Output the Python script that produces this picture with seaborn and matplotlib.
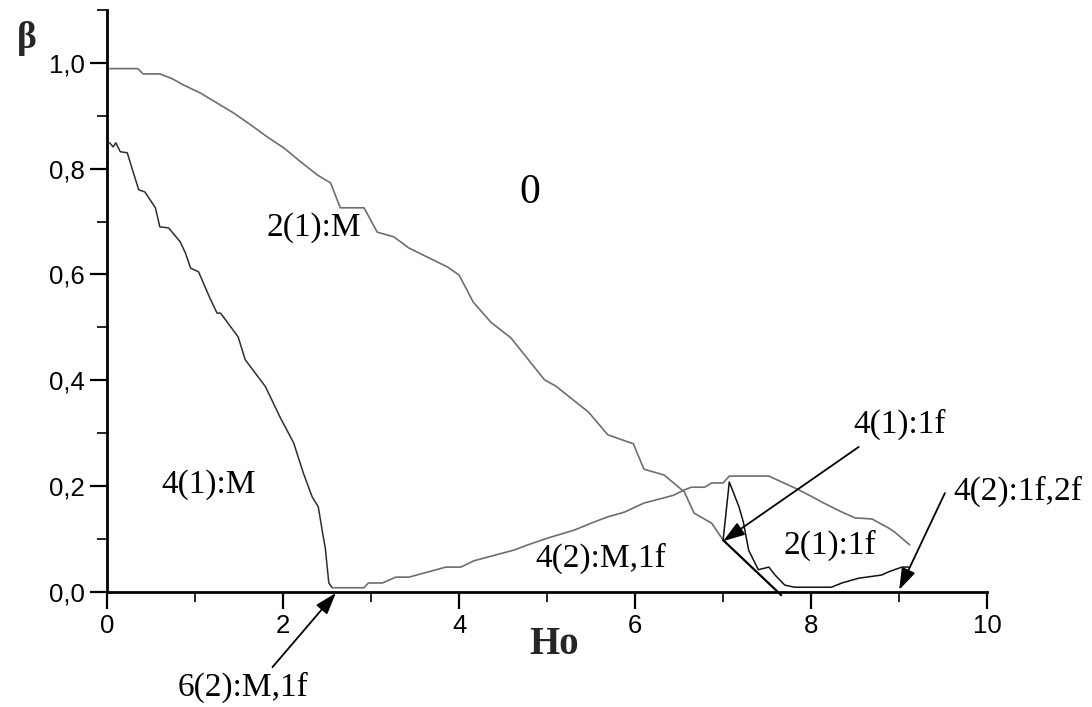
import matplotlib
matplotlib.use("Agg")
import matplotlib.pyplot as plt
import seaborn as sns
import pandas as pd
from matplotlib.ticker import MultipleLocator, FuncFormatter

# ---- data ----
upper_x = [0.03, 0.35, 0.41, 0.60, 0.74, 0.87, 1.06, 1.25, 1.44, 1.63, 1.82, 2.01, 2.20, 2.39,
           2.54, 2.65, 2.92, 3.07, 3.26, 3.43, 3.87, 4.00, 4.16, 4.36, 4.59, 4.97, 5.10, 5.47,
           5.69, 5.98, 6.10, 6.33, 6.56, 6.67, 6.87, 7.00]
upper_y = [0.989, 0.989, 0.979, 0.979, 0.970, 0.958, 0.943, 0.924, 0.905, 0.883, 0.860, 0.839,
           0.813, 0.788, 0.773, 0.726, 0.726, 0.680, 0.671, 0.650, 0.614, 0.599, 0.548, 0.510,
           0.480, 0.401, 0.389, 0.340, 0.297, 0.280, 0.232, 0.221, 0.189, 0.149, 0.130, 0.098]

tail_x = [7.00, 7.66]
tail_y = [0.098, -0.006]

left_x = [0.03, 0.07, 0.10, 0.15, 0.23, 0.30, 0.36, 0.43, 0.55, 0.60, 0.70, 0.83, 0.89, 0.95,
          1.04, 1.17, 1.25, 1.29, 1.49, 1.57, 1.80, 1.97, 2.12, 2.23, 2.33, 2.40, 2.45, 2.48,
          2.52, 2.56]
left_y = [0.849, 0.841, 0.849, 0.832, 0.830, 0.792, 0.760, 0.756, 0.726, 0.690, 0.688, 0.662,
          0.641, 0.612, 0.605, 0.555, 0.527, 0.527, 0.482, 0.439, 0.388, 0.329, 0.282, 0.225,
          0.180, 0.161, 0.111, 0.083, 0.017, 0.008]

lower_x = [2.56, 2.92, 2.97, 3.13, 3.28, 3.43, 3.85, 4.02, 4.17, 4.62, 4.78, 5.01, 5.31, 5.50,
           5.69, 5.88, 6.10, 6.33, 6.44, 6.56, 6.64, 6.79, 6.87, 7.00, 7.07, 7.52, 7.86, 8.01,
           8.12, 8.35, 8.50, 8.69, 8.88, 8.95, 9.12]
lower_y = [0.008, 0.008, 0.017, 0.017, 0.028, 0.028, 0.047, 0.047, 0.059, 0.079, 0.089, 0.102,
           0.117, 0.130, 0.142, 0.151, 0.168, 0.178, 0.183, 0.193, 0.198, 0.198, 0.206, 0.206,
           0.219, 0.219, 0.193, 0.180, 0.170, 0.151, 0.140, 0.138, 0.121, 0.113, 0.089]

spike_x = [7.00, 7.07, 7.18, 7.23, 7.29, 7.40, 7.52, 7.59, 7.70, 7.81, 8.23, 8.35, 8.54, 8.80,
           8.88, 9.03, 9.11]
spike_y = [0.098, 0.208, 0.161, 0.132, 0.079, 0.042, 0.047, 0.032, 0.013, 0.009, 0.009, 0.017,
           0.026, 0.032, 0.038, 0.047, 0.047]

region_labels = ["0", "2(1):M", "4(1):M", "4(2):M,1f", "2(1):1f"]
region_x = [4.80, 2.35, 1.16, 5.61, 8.21]
region_y = [0.754, 0.688, 0.202, 0.064, 0.089]

arrow_labels = ["4(1):1f", "4(2):1f,2f", "6(2):M,1f"]
arrow_text_x = [9.00, 10.35, 1.55]
arrow_text_y = [0.316, 0.190, -0.180]
arrow_from_x = [8.54, 9.52, 1.88]
arrow_from_y = [0.274, 0.187, -0.142]
arrow_to_x = [7.00, 9.00, 2.60]
arrow_to_y = [0.096, 0.004, -0.002]

x_ticks = [0, 2, 4, 6, 8, 10]
y_ticks = [0.0, 0.2, 0.4, 0.6, 0.8, 1.0]

# ---- styling ----
sns.set_style("ticks")
plt.rcParams["font.family"] = ["Liberation Sans", "DejaVu Sans"]
serif = ["Liberation Serif", "DejaVu Serif"]

fig = plt.figure(figsize=(10.92, 7.07), dpi=100)
ax = fig.add_axes([0.098, 0.1627, 0.806, 0.8233])

def draw(xs, ys, color, lw):
    df = pd.DataFrame({"x": xs, "y": ys})
    sns.lineplot(data=df, x="x", y="y", sort=False, estimator=None, color=color,
                 linewidth=lw, ax=ax)
    ax.lines[-1].set_clip_on(False)

draw(upper_x, upper_y, "#6e6e6e", 1.2)
draw(tail_x, tail_y, "#000000", 1.6)
draw(left_x, left_y, "#2e2e2e", 1.1)
draw(lower_x, lower_y, "#6e6e6e", 1.2)
draw(spike_x, spike_y, "#111111", 1.1)

for t, x, y in zip(region_labels, region_x, region_y):
    ax.text(x, y, t, family=serif, fontsize=30 if t == "0" else 24, ha="center",
            va="center", color="black")

for t, tx, ty, fx, fy, px, py in zip(arrow_labels, arrow_text_x, arrow_text_y,
                                     arrow_from_x, arrow_from_y, arrow_to_x, arrow_to_y):
    ax.text(tx, ty, t, family=serif, fontsize=24, ha="center", va="center",
            color="black", clip_on=False)
    ax.annotate("", xy=(px, py), xytext=(fx, fy),
                arrowprops=dict(arrowstyle="-|>,head_length=0.6,head_width=0.2",
                                color="black", lw=1.3,
                                mutation_scale=22, shrinkA=0, shrinkB=0),
                annotation_clip=False)

ax.set_xlim(0, 10)
ax.set_ylim(0, 1.10)
ax.set_xticks(x_ticks)
ax.set_yticks(y_ticks)
ax.xaxis.set_minor_locator(MultipleLocator(1))
ax.yaxis.set_minor_locator(MultipleLocator(0.1))
ax.yaxis.set_major_formatter(FuncFormatter(lambda v, p: f"{v:.1f}".replace(".", ",")))
ax.tick_params(axis="both", which="major", direction="out", length=12, width=1.6,
               labelsize=18.5, pad=4, colors="black")
ax.tick_params(axis="both", which="minor", direction="out", length=7, width=1.4)
for s in ["top", "right"]:
    ax.spines[s].set_visible(False)
for s in ["left", "bottom"]:
    ax.spines[s].set_linewidth(2.0)
    ax.spines[s].set_color("black")

ax.set_xlabel("")
ax.set_ylabel("")
fig.text(554 / 1092, 1 - 645 / 707, "Ho", family=serif, fontsize=28, fontweight="bold",
         ha="center", va="center")
fig.text(27 / 1092, 1 - 38 / 707, "β", family=serif, fontsize=27, fontweight="bold",
         ha="center", va="center")

fig.savefig("out.png", dpi=100)
